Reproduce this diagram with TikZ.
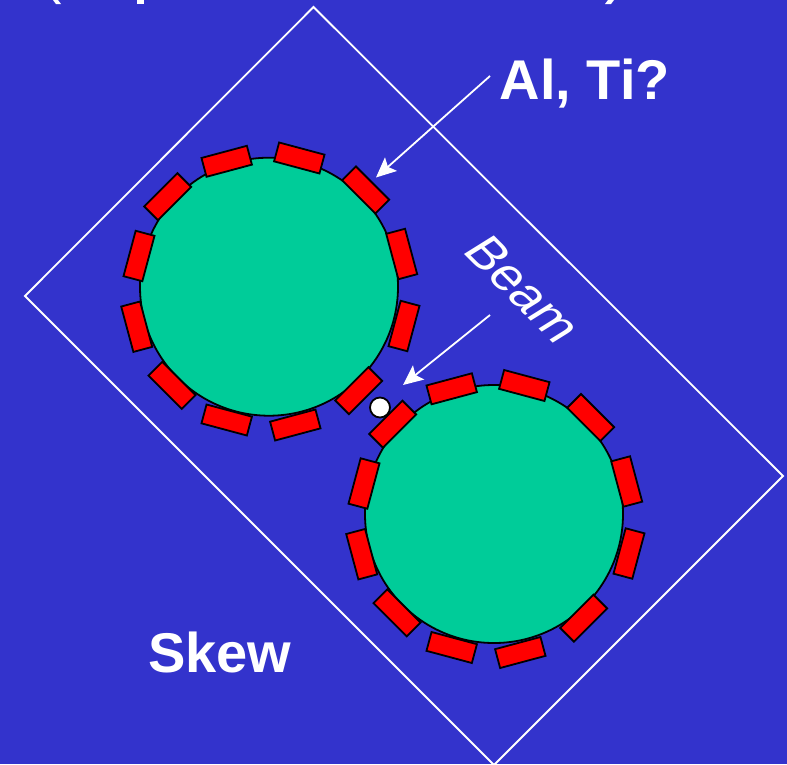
\documentclass[tikz,border=0pt]{standalone}
\usepackage{fontspec}
\setmainfont{Liberation Sans}
\usetikzlibrary{arrows.meta}
\definecolor{deckblue}{RGB}{51,51,204}
\definecolor{rollgreen}{RGB}{0,204,153}
\tikzset{
  x=1pt,y=-1pt,
  roll/.style={circle,draw=black,line width=1.8pt,fill=rollgreen,minimum size=258pt,inner sep=0pt,outer sep=0pt},
  pad/.style={rectangle,draw=black,line width=1.8pt,fill=red,minimum width=47pt,minimum height=19.5pt,inner sep=0pt,outer sep=0pt},
  frameline/.style={draw=white,line width=1.8pt,line join=miter},
  pointer/.style={draw=white,line width=1.8pt,-{Stealth[length=20pt,width=18pt,inset=4pt]}},
  headline/.style={text=white,font=\fontsize{56}{60}\selectfont\bfseries,inner sep=0pt,anchor=base west},
  beamtext/.style={text=white,font=\fontsize{51}{56}\selectfont,inner sep=0pt,anchor=base west,transform shape},
  tail/.style={fill=white,draw=none}
}
% Ring of twelve pads: centre offset from the roll centre and tilt
\newcommand{\padring}[3]{%
  \foreach \n/\dx/\dy/\ang in {1/-42.3/-125.4/15,2/30.3/-128.7/-15,3/96.7/-96.7/-45,4/132.7/-32.7/-75,
      5/135/39.3/-105,6/89.7/104/-135,7/26.3/138.3/15,8/-42.3/133.3/-15,
      9/-97/98.6/-45,10/-132.3/40/-75,11/-130/-30.7/-105,12/-101.3/-90/-135}{
    \node[pad,rotate=\ang] (#1pad\n) at ({#2+\dx},{#3+\dy}) {};
  }%
}
\begin{document}
\begin{tikzpicture}
  \useasboundingbox (0,0) rectangle (787,764);
  \clip (0,0) rectangle (787,764);
  \fill[deckblue] (0,0) rectangle (787,764);

  % Clipped descenders of the title line above
  \path[tail] (53,0) -- (58,0) -- (61,4) -- (56,4) -- cycle;
  \path[tail] (137,0) rectangle (144,4);
  \path[tail] (608,0) -- (614,0) -- (611,4) -- (605,4) -- cycle;

  % Tilted interaction-region frame
  \coordinate (ftop) at (313.5,7);
  \coordinate (fleft) at (25,296);
  \coordinate (fbottom) at (494,765);
  \coordinate (fright) at (783,476);
  \path[frameline] (ftop) -- (fright) -- (fbottom) -- (fleft) -- cycle;

  % Rolls with their pads
  \node[roll] (rollA) at (269,286.7) {};
  \padring{a}{269}{286.7}
  \node[roll] (rollB) at (494,514) {};
  \padring{b}{494}{514.2}

  % Beam spot
  \node[circle,draw=black,fill=white,line width=1.8pt,minimum size=20pt,inner sep=0pt] (spot) at (380,407.5) {};

  % Labels
  \node[headline] (altext) at (499.5,99) {Al, Ti?};
  \node[headline] (skew) at (148,672) {Skew};
  \begin{scope}[cm={0.707,-0.707,0.85,0.53,(461,251)}]
    \node[beamtext] (beam) at (0,0) {Beam};
  \end{scope}

  % Pointers
  \coordinate (alstart) at (490,76);
  \coordinate (altip) at (376,177.5);
  \coordinate (beamstart) at (490,315);
  \coordinate (beamtip) at (403,385);
  \draw[pointer] (alstart) -- (altip);
  \draw[pointer] (beamstart) -- (beamtip);
\end{tikzpicture}
\end{document}
